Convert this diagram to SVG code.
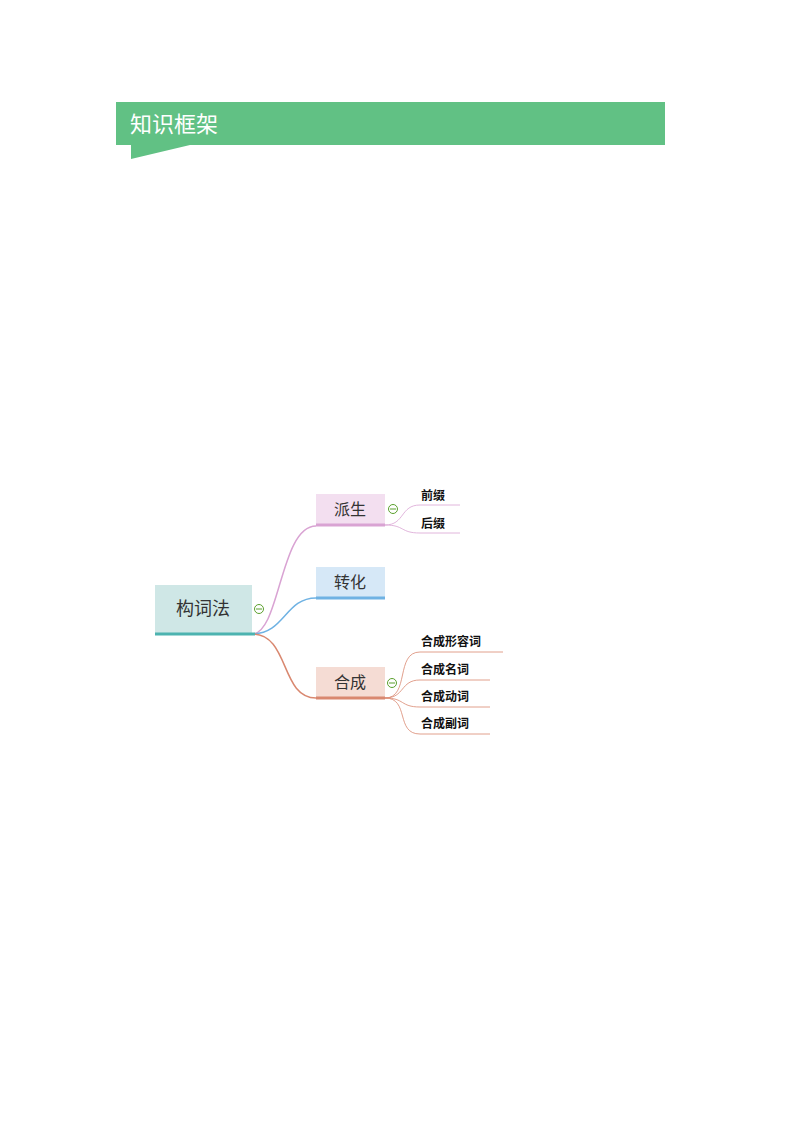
<svg xmlns="http://www.w3.org/2000/svg" width="794" height="1123" viewBox="0 0 794 1123">
<style>
.t{font-family:"Liberation Serif","Noto Sans CJK SC",serif;font-size:16px;fill:#333}
.l{font-family:"Liberation Sans","Noto Sans CJK SC",sans-serif;font-size:12px;font-weight:bold;fill:#111}
.c{fill:#fff;stroke:#5aa02c;stroke-width:1}
path{fill:none}
</style>
<rect width="794" height="1123" fill="#fff"/>
<g id="header">
<polygon points="116,102 665,102 665,145 190,145 131,159 131,145 116,145" fill="#61c184"/>
<text x="130" y="132" font-family="Noto Sans CJK SC,sans-serif" font-size="22" fill="#fff">知识框架</text>
</g>
<g id="connectors">
<path d="M252,634 C280,634 280,526 316,526" stroke="#d9a3d3" stroke-width="1.5"/>
<path d="M252,634 C285,634 285,598 316,598" stroke="#6fb2e3" stroke-width="1.5"/>
<path d="M252,634 C290,634 280,698 316,698" stroke="#d98870" stroke-width="1.5"/>
<path d="M385,525 C405,525 400,505 420,505 L460,505" stroke="#d9a3d3" stroke-width="0.8"/>
<path d="M385,525 C405,525 400,533 420,533 L460,533" stroke="#d9a3d3" stroke-width="0.8"/>
<path d="M385,698 C410,698 395,652 420,652 L503,652" stroke="#d98870" stroke-width="0.8"/>
<path d="M385,698 C405,698 400,680 420,680 L490,680" stroke="#d98870" stroke-width="0.8"/>
<path d="M385,698 C405,698 400,707 420,707 L490,707" stroke="#d98870" stroke-width="0.8"/>
<path d="M385,698 C410,698 395,734 420,734 L490,734" stroke="#d98870" stroke-width="0.8"/>
</g>
<g id="root">
<rect x="155" y="585" width="97" height="49" fill="#cfe7e6"/>
<line x1="155" y1="634" x2="255" y2="634" stroke="#4db3b0" stroke-width="3"/>
<text x="203" y="615" text-anchor="middle" class="t" style="font-size:18px">构词法</text>
<circle cx="259" cy="609" r="4.5" class="c"/><line x1="256" y1="609" x2="262" y2="609" stroke="#5aa02c"/>
</g>
<g id="paisheng">
<rect x="316" y="494" width="69" height="31" fill="#f3dff0"/>
<line x1="316" y1="525" x2="385" y2="525" stroke="#d9a3d3" stroke-width="3"/>
<text x="350" y="515" text-anchor="middle" class="t">派生</text>
<circle cx="393" cy="509" r="4.5" class="c"/><line x1="390" y1="509" x2="396" y2="509" stroke="#5aa02c"/>
</g>
<g id="zhuanhua">
<rect x="316" y="567" width="69" height="31" fill="#d6e8f7"/>
<line x1="316" y1="598" x2="385" y2="598" stroke="#6fb2e3" stroke-width="3"/>
<text x="350" y="588" text-anchor="middle" class="t">转化</text>
</g>
<g id="hecheng">
<rect x="316" y="667" width="69" height="31" fill="#f5dcd4"/>
<line x1="316" y1="698" x2="385" y2="698" stroke="#d98870" stroke-width="3"/>
<text x="350" y="688" text-anchor="middle" class="t">合成</text>
<circle cx="392" cy="683" r="4.5" class="c"/><line x1="389" y1="683" x2="395" y2="683" stroke="#5aa02c"/>
</g>
<g id="qianzhui"><text x="421" y="500" class="l">前缀</text></g>
<g id="houzhui"><text x="421" y="528" class="l">后缀</text></g>
<g id="hcxrc"><text x="421" y="646" class="l">合成形容词</text></g>
<g id="hcmc"><text x="421" y="674" class="l">合成名词</text></g>
<g id="hcdc"><text x="421" y="701" class="l">合成动词</text></g>
<g id="hcfc"><text x="421" y="728" class="l">合成副词</text></g>
</svg>
